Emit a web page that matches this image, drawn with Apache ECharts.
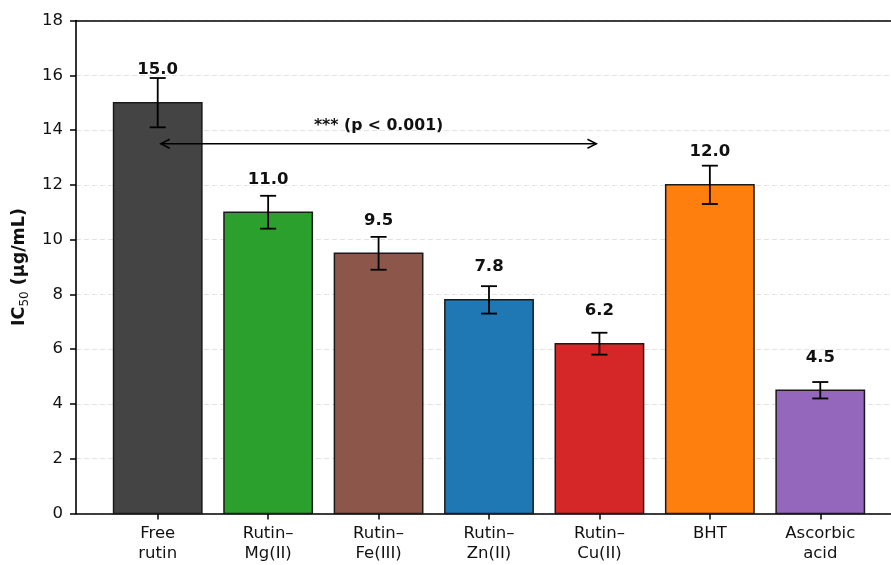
<!DOCTYPE html>
<html>
<head>
<meta charset="utf-8">
<script src="https://cdn.jsdelivr.net/npm/echarts@6/dist/echarts.min.js"></script>
<style>
  html, body { margin: 0; padding: 0; background: #fff; }
  #chart { width: 891px; height: 565px; }
</style>
</head>
<body>
<div id="chart"></div>
<script>
// IC50 values (µg/mL) with standard deviations
const categories = ['Free\nrutin', 'Rutin\u2013\nMg(II)', 'Rutin\u2013\nFe(III)', 'Rutin\u2013\nZn(II)', 'Rutin\u2013\nCu(II)', 'BHT', 'Ascorbic\nacid'];
const ic50 = [15.0, 11.0, 9.5, 7.8, 6.2, 12.0, 4.5];
const sd = [0.9, 0.6, 0.6, 0.5, 0.4, 0.7, 0.3];
const barColors = ['#444444', '#2ca02c', '#8c564b', '#1f77b4', '#d62728', '#ff7f0e', '#9467bd'];

// significance bracket: Free rutin vs Rutin–Cu(II)
const sigFrom = [0, 13.5];
const sigTo = [4, 13.5];
const sigText = '*** (p < 0.001)';

const FONT = 'DejaVu Sans';
const tickPositions = categories.map((_, i) => i);

const chart = echarts.init(document.getElementById('chart'), null, { renderer: 'canvas' });

const barData = ic50.map((v, i) => [i, v, sd[i]]);
const spine = { show: true, onZero: false, lineStyle: { color: '#000', width: 1.6 } };

const option = {
  backgroundColor: '#ffffff',
  animation: false,
  grid: {
    left: 76, width: 826, top: 20.5, bottom: 51.5,
    show: false, containLabel: false, outerBoundsMode: 'none'
  },
  xAxis: [
    {
      type: 'value',
      min: -0.74,
      max: 6.74,
      axisLine: spine,
      axisTick: { show: true, length: 6, customValues: tickPositions, lineStyle: { color: '#000', width: 1.5 } },
      axisLabel: {
        customValues: tickPositions,
        formatter: v => categories[Math.round(v)],
        fontFamily: FONT, fontSize: 16.5, color: '#111', lineHeight: 20, margin: 10
      },
      splitLine: { show: false }
    },
    {
      // top spine
      type: 'value',
      position: 'top',
      min: -0.74,
      max: 6.74,
      axisLine: spine,
      axisTick: { show: false },
      axisLabel: { show: false },
      splitLine: { show: false }
    }
  ],
  yAxis: {
    type: 'value',
    min: 0, max: 18, interval: 2,
    name: '{b|IC}{s|50}{b| (\u03bcg/mL)}',
    nameLocation: 'middle',
    nameGap: 44,
    nameTextStyle: {
      rich: {
        b: { fontFamily: FONT, fontSize: 17.5, fontWeight: 'bold', color: '#111', lineHeight: 24 },
        s: { fontFamily: FONT, fontSize: 12, color: '#111', verticalAlign: 'bottom', lineHeight: 20 }
      }
    },
    axisLine: spine,
    axisTick: { show: true, length: 6, lineStyle: { color: '#000', width: 1.5 } },
    axisLabel: { fontFamily: FONT, fontSize: 16.5, color: '#111', margin: 13 },
    splitLine: { show: true, lineStyle: { color: '#e2e2e2', width: 1, type: [5, 3] } }
  },
  series: [
    {
      // bars
      type: 'custom',
      data: barData,
      z: 2,
      renderItem: (params, api) => {
        const i = api.value(0);
        const top = api.coord([i, api.value(1)]);
        const base = api.coord([i, 0]);
        const w = api.size([0.8, 0])[0];
        return {
          type: 'rect',
          shape: { x: top[0] - w / 2, y: top[1], width: w, height: base[1] - top[1] },
          style: { fill: barColors[params.dataIndex], stroke: '#1a1a1a', lineWidth: 1.5 }
        };
      }
    },
    {
      // error bars and value labels
      type: 'custom',
      data: barData,
      z: 3,
      renderItem: (params, api) => {
        const i = api.value(0);
        const v = api.value(1);
        const e = api.value(2);
        const hi = api.coord([i, v + e]);
        const lo = api.coord([i, v - e]);
        const top = api.coord([i, v]);
        const cap = 8;
        const st = { stroke: '#000', lineWidth: 1.8 };
        return {
          type: 'group',
          children: [
            { type: 'line', shape: { x1: hi[0], y1: hi[1], x2: lo[0], y2: lo[1] }, style: st },
            { type: 'line', shape: { x1: hi[0] - cap, y1: hi[1], x2: hi[0] + cap, y2: hi[1] }, style: st },
            { type: 'line', shape: { x1: lo[0] - cap, y1: lo[1], x2: lo[0] + cap, y2: lo[1] }, style: st },
            {
              type: 'text',
              style: {
                x: top[0], y: top[1] - 33,
                text: v.toFixed(1),
                align: 'center', verticalAlign: 'middle',
                fontFamily: FONT, fontSize: 16.5, fontWeight: 'bold', fill: '#111'
              }
            }
          ]
        };
      }
    },
    {
      // significance arrow
      type: 'custom',
      data: [[sigFrom[0], sigFrom[1], sigTo[0], sigTo[1]]],
      z: 4,
      renderItem: (params, api) => {
        const a = api.coord([api.value(0), api.value(1)]);
        const b = api.coord([api.value(2), api.value(3)]);
        const shrink = 3, hl = 9, hw = 4.5;
        const x1 = a[0] + shrink, x2 = b[0] - shrink, y = a[1];
        const st = { stroke: '#000', lineWidth: 1.4, fill: null };
        return {
          type: 'group',
          children: [
            { type: 'line', shape: { x1: x1, y1: y, x2: x2, y2: y }, style: st },
            { type: 'polyline', shape: { points: [[x1 + hl, y - hw], [x1, y], [x1 + hl, y + hw]] }, style: st },
            { type: 'polyline', shape: { points: [[x2 - hl, y - hw], [x2, y], [x2 - hl, y + hw]] }, style: st },
            {
              type: 'text',
              style: {
                x: (a[0] + b[0]) / 2, y: y - 18,
                text: sigText,
                align: 'center', verticalAlign: 'middle',
                fontFamily: FONT, fontSize: 15.7, fontWeight: 'bold', fill: '#111'
              }
            }
          ]
        };
      }
    }
  ]
};

chart.setOption(option);
</script>
</body>
</html>
